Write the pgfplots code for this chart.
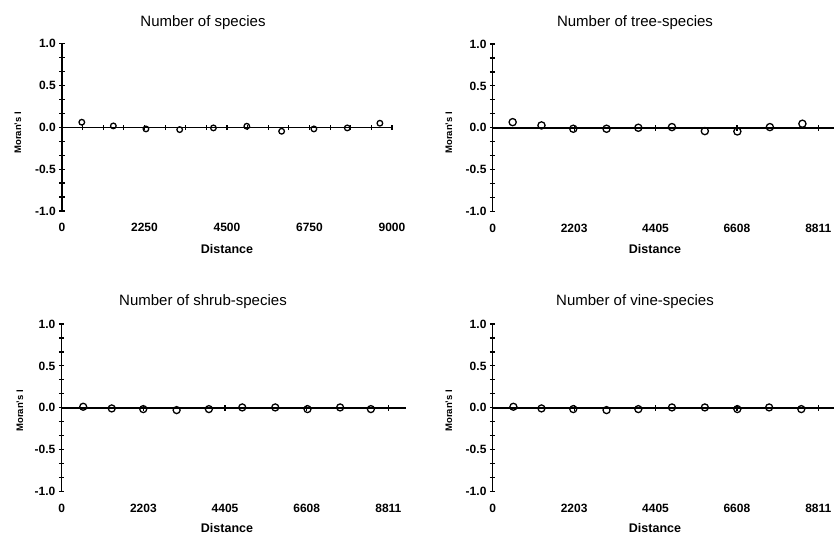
\documentclass[border=0pt]{standalone}
\usepackage{fontspec}
\setmainfont{Liberation Sans}
\usepackage{pgfplots}
\pgfplotsset{compat=1.18}

\pgfplotsset{
  moran/.style={
    scale only axis,
    height=167.5pt,
    xmin=0, ymin=-1, ymax=1,
    axis x line=middle, axis y line=left,
    axis line style={-, line width=1.5pt},
    hide obscured x ticks=false, hide obscured y ticks=false,
    clip=false,
    ytick={-1,-0.5,0,0.5,1},
    minor y tick num=2,
    tick align=center,
    major tick length=5.5pt, minor tick length=5.5pt,
    every tick/.style={black, line width=1.2pt},
    /pgf/number format/assume math mode=true,
    /pgf/number format/1000 sep={},
    tick label style={font=\bfseries\fontsize{12}{14}\selectfont},
    yticklabel style={/pgf/number format/.cd, fixed, fixed zerofill, precision=1},
    xticklabel style={anchor=center, yshift=-97.8pt},
  },
  pts/.style={only marks, mark=o, mark size=#1, black, mark options={line width=1.3pt}},
}

\begin{document}
\begin{tikzpicture}[x=1pt,y=1pt]
\useasboundingbox (0,0) rectangle (834,-536);

% top left
\begin{axis}[moran, at={(62pt,-211pt)}, anchor=south west,
    width=330pt, xmax=9000,
    xtick={0,2250,4500,6750,9000}, minor x tick num=3]
\addplot[pts=2.8pt] coordinates {
  (540,0.06) (1400,0.016) (2290,-0.02) (3210,-0.028) (4130,-0.008)
  (5040,0.012) (5990,-0.048) (6870,-0.02) (7780,-0.008) (8670,0.048)
};
\end{axis}

% top right
\begin{axis}[moran, at={(492.7pt,-211.5pt)}, anchor=south west,
    width=343.7pt, xmax=9300,
    xtick={0,2203,4405,6608,8811}, minor x tick num=2]
\addplot[pts=3.6pt] coordinates {
  (540,0.067) (1320,0.028) (2180,-0.012) (3080,-0.012) (3940,0)
  (4850,0.008) (5740,-0.04) (6620,-0.044) (7500,0.008) (8380,0.048)
};
\end{axis}

% bottom left
\begin{axis}[moran, at={(61.7pt,-491.5pt)}, anchor=south west,
    width=344.4pt, xmax=9290,
    xtick={0,2203,4405,6608,8811}, minor x tick num=2]
\addplot[pts=3.5pt] coordinates {
  (580,0.012) (1350,-0.008) (2200,-0.016) (3100,-0.028) (3970,-0.016)
  (4870,0.004) (5760,0.004) (6630,-0.016) (7510,0.004) (8340,-0.016)
};
\end{axis}

% bottom right
\begin{axis}[moran, at={(492.7pt,-491.5pt)}, anchor=south west,
    width=343.7pt, xmax=9300,
    xtick={0,2203,4405,6608,8811}, minor x tick num=2]
\addplot[pts=3.5pt] coordinates {
  (560,0.012) (1320,-0.008) (2180,-0.016) (3080,-0.028) (3940,-0.016)
  (4850,0.004) (5740,0.004) (6620,-0.016) (7480,0.004) (8350,-0.016)
};
\end{axis}

% titles and axis labels
\begin{scope}[every node/.style={font=\fontsize{15}{18}\selectfont}]
\node at (203,-23) {Number of species};
\node at (635,-23) {Number of tree-species};
\node at (203,-302) {Number of shrub-species};
\node at (635,-302) {Number of vine-species};
\end{scope}
\begin{scope}[every node/.style={font=\bfseries\fontsize{12.5}{15}\selectfont}]
\node at (227,-249) {Distance};
\node at (655,-249) {Distance};
\node at (227,-528) {Distance};
\node at (655,-528) {Distance};
\end{scope}
\begin{scope}[every node/.style={font=\bfseries\fontsize{9.5}{12}\selectfont}]
\node[rotate=90] at (18,-133) {Moran's I};
\node[rotate=90] at (449,-133) {Moran's I};
\node[rotate=90] at (20,-411) {Moran's I};
\node[rotate=90] at (449,-411) {Moran's I};
\end{scope}
\end{tikzpicture}
\end{document}
